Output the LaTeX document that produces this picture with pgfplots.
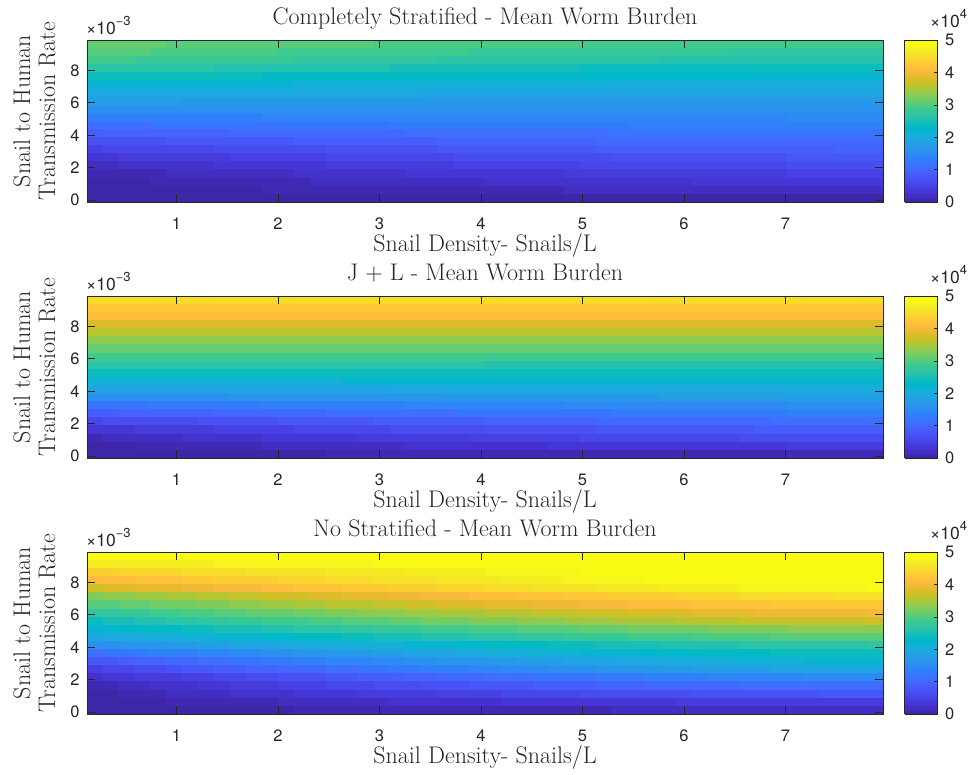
\documentclass[border=0pt]{standalone}
\usepackage{pgfplots}
\usepackage{pgfplotstable}
\pgfplotsset{compat=1.18}
\usepackage{fontspec}
\newfontfamily\hel{TeX Gyre Heros}
\definecolor{axgray}{rgb}{0.15,0.15,0.15}
\newcommand\tickfont{\hel\fontsize{16.5}{18}\selectfont}
\newcommand\expfont{\hel\fontsize{17.5}{19}\selectfont}
\newcommand\labfont{\fontsize{24}{27}\selectfont}
\newcommand\expo[1]{\raisebox{0.5em}{\fontsize{13}{13}\selectfont #1}}

% one grid cell of the heat map (cell size of the 50 x 20 grid)
\pgfdeclareplotmark{cell}{%
  \pgfpathrectangle{\pgfpoint{-8.15pt}{-4.25pt}}{\pgfpoint{16.3pt}{8.5pt}}%
  \pgfusepathqfill}

% parula, 64 levels (last entry repeated so that each level gets one bin)
\pgfplotsset{colormap={parula}{
rgb=(0.2422,0.1504,0.6603) rgb=(0.2504,0.1650,0.7076) rgb=(0.2578,0.1818,0.7511) rgb=(0.2647,0.1978,0.7952)
rgb=(0.2706,0.2147,0.8364) rgb=(0.2751,0.2342,0.8710) rgb=(0.2783,0.2559,0.8991) rgb=(0.2803,0.2782,0.9221)
rgb=(0.2813,0.3006,0.9414) rgb=(0.2810,0.3228,0.9579) rgb=(0.2795,0.3447,0.9717) rgb=(0.2760,0.3667,0.9829)
rgb=(0.2699,0.3892,0.9906) rgb=(0.2602,0.4123,0.9952) rgb=(0.2440,0.4358,0.9988) rgb=(0.2206,0.4603,0.9973)
rgb=(0.1963,0.4847,0.9892) rgb=(0.1834,0.5074,0.9798) rgb=(0.1786,0.5289,0.9682) rgb=(0.1764,0.5499,0.9520)
rgb=(0.1687,0.5703,0.9359) rgb=(0.1540,0.5902,0.9218) rgb=(0.1460,0.6091,0.9079) rgb=(0.1380,0.6276,0.8973)
rgb=(0.1248,0.6459,0.8883) rgb=(0.1113,0.6635,0.8763) rgb=(0.0952,0.6798,0.8598) rgb=(0.0689,0.6948,0.8394)
rgb=(0.0297,0.7082,0.8163) rgb=(0.0036,0.7203,0.7917) rgb=(0.0067,0.7312,0.7660) rgb=(0.0433,0.7411,0.7394)
rgb=(0.0964,0.7500,0.7120) rgb=(0.1408,0.7584,0.6842) rgb=(0.1717,0.7670,0.6554) rgb=(0.1938,0.7758,0.6251)
rgb=(0.2161,0.7843,0.5923) rgb=(0.2470,0.7918,0.5567) rgb=(0.2906,0.7973,0.5188) rgb=(0.3406,0.8008,0.4789)
rgb=(0.3909,0.8029,0.4354) rgb=(0.4456,0.8024,0.3909) rgb=(0.5044,0.7993,0.3480) rgb=(0.5616,0.7942,0.3045)
rgb=(0.6174,0.7876,0.2612) rgb=(0.6720,0.7793,0.2227) rgb=(0.7242,0.7698,0.1910) rgb=(0.7738,0.7598,0.1646)
rgb=(0.8203,0.7498,0.1535) rgb=(0.8634,0.7406,0.1596) rgb=(0.9035,0.7330,0.1774) rgb=(0.9393,0.7288,0.2100)
rgb=(0.9728,0.7298,0.2394) rgb=(0.9956,0.7434,0.2371) rgb=(0.9970,0.7659,0.2199) rgb=(0.9952,0.7893,0.2028)
rgb=(0.9892,0.8136,0.1885) rgb=(0.9786,0.8386,0.1766) rgb=(0.9676,0.8639,0.1643) rgb=(0.9610,0.8890,0.1537)
rgb=(0.9597,0.9135,0.1423) rgb=(0.9628,0.9373,0.1265) rgb=(0.9691,0.9606,0.1064) rgb=(0.9769,0.9839,0.0805)
rgb=(0.9769,0.9839,0.0805)}}

\pgfplotsset{
  cell plot/.style={scatter, only marks, mark=cell, point meta=explicit,
    scatter/use mapped color={fill=mapped color}},
  panel/.style={
    scale only axis, width=796pt, height=162pt, anchor=north west,
    xmin=0.12, xmax=7.96, ymin=-0.125, ymax=9.875,
    xtick={1,...,7}, ytick={0,2,4,6,8},
    tick align=inside, major tick length=8pt,
    axis on top, clip marker paths=true,
    colormap name=parula, colormap access=piecewise constant,
    point meta min=0, point meta max=500,
    axis line style={draw=axgray, line width=0.6pt},
    every tick/.style={draw=axgray, line width=0.6pt},
    tick label style={font=\tickfont, text=axgray},
    /pgf/number format/assume math mode=true,
    xticklabel style={yshift=-12.5pt},
    yticklabel style={xshift=-4pt},
    title style={at={(0.5,1)}, anchor=base, yshift=10pt, font=\labfont, text=axgray},
    xlabel={Snail Density- Snails/L},
    xlabel style={at={(0.5,0)}, anchor=base, yshift=-49pt, font=\labfont, text=axgray},
    colorbar,
    colorbar style={
      at={(parent axis.north east)}, anchor=north west, xshift=13pt,
      scale only axis, width=33pt, height=162pt,
      ytick={0,100,200,300,400,500}, yticklabels={0,1,2,3,4,5},
      ytick pos=right, yticklabel pos=right,
      major tick length=4pt, tick align=inside,
      yticklabel style={font=\tickfont, text=axgray, xshift=4pt},
      axis line style={draw=axgray, line width=0.6pt},
      every tick/.style={draw=axgray, line width=0.6pt},
    },
  },
}

% Mean worm burden in hundreds; one line per transmission-rate row (top row first),
% 50 snail-density columns from left to right.
\pgfplotstableread[header=false]{
311 310 310 309 308  307 307 306 305 305  304 303 303 302 302  301 300 300 299 299  298 297 297 296 296  295 295 294 294 293  293 292 292 292 291  291 290 290 290 289  289 289 288 288 288  288 287 287 287 287
302 301 300 300 299  298 297 296 295 295  294 293 292 292 291  290 290 289 288 287  287 286 285 285 284  284 283 282 282 281  281 280 280 279 279  278 278 277 277 277  276 276 276 275 275  275 274 274 274 274
287 286 285 284 283  282 282 281 280 279  278 278 277 276 275  274 274 273 272 271  271 270 269 269 268  267 267 266 265 265  264 264 263 263 262  262 261 261 260 260  259 259 259 258 258  258 257 257 257 257
268 267 266 266 265  264 263 262 261 261  260 259 258 258 257  256 256 255 254 253  253 252 251 251 250  250 249 248 248 247  247 246 246 245 245  244 244 243 243 243  242 242 242 241 241  241 240 240 240 240
246 245 245 244 243  242 242 241 240 240  239 238 238 237 237  236 235 235 234 234  233 232 232 231 231  230 230 229 229 228  228 227 227 227 226  226 225 225 225 224  224 224 223 223 223  223 222 222 222 222
222 221 221 220 220  219 219 218 218 217  217 216 216 215 215  214 214 214 213 213  212 212 211 211 211  210 210 209 209 209  208 208 208 207 207  207 206 206 206 206  205 205 205 205 205  204 204 204 204 204
198 198 197 197 197  197 196 196 196 195  195 195 195 194 194  194 194 193 193 193  193 192 192 192 192  191 191 191 191 191  190 190 190 190 190  190 189 189 189 189  189 189 189 188 188  188 188 188 188 188
177 177 177 177 177  177 176 176 176 176  176 176 176 176 176  176 176 175 175 175  175 175 175 175 175  175 175 175 175 175  175 175 175 174 174  174 174 174 174 174  174 174 174 174 174  174 174 174 174 174
156 156 156 156 156  157 157 157 157 157  157 157 157 157 158  158 158 158 158 158  158 158 158 158 158  159 159 159 159 159  159 159 159 159 159  159 159 160 160 160  160 160 160 160 160  160 160 160 160 160
135 135 136 136 136  137 137 137 138 138  138 139 139 139 140  140 140 141 141 141  141 142 142 142 143  143 143 143 144 144  144 144 145 145 145  145 145 146 146 146  146 146 146 146 147  147 147 147 147 147
113 114 114 115 116  116 117 117 118 118  119 120 120 121 121  122 122 123 123 124  124 125 125 126 126  127 127 128 128 129  129 129 130 130 131  131 131 131 132 132  132 133 133 133 133  134 134 134 134 134
92 93 94 95 95  96 97 98 99 100  100 101 102 103 103  104 105 106 106 107  108 108 109 110 110  111 112 112 113 113  114 115 115 116 116  117 117 118 118 118  119 119 119 120 120  120 121 121 121 121
72 73 74 75 76  77 78 79 80 81  82 83 84 85 86  87 88 88 89 90  91 92 93 93 94  95 96 96 97 98  99 99 100 100 101  102 102 103 103 104  104 105 105 105 106  106 106 107 107 107
53 54 55 57 58  59 60 61 62 63  65 66 67 68 69  70 71 72 73 74  75 76 77 78 78  79 80 81 82 83  83 84 85 86 86  87 88 88 89 89  90 90 91 91 92  92 92 93 93 93
36 37 39 40 41  42 43 45 46 47  48 49 50 51 53  54 55 56 57 58  59 60 61 62 63  64 65 65 66 67  68 69 69 70 71  72 72 73 73 74  75 75 76 76 77  77 77 78 78 78
21 22 24 25 26  27 28 30 31 32  33 34 35 36 38  39 40 41 42 43  44 45 46 47 48  49 50 50 51 52  53 54 54 55 56  57 57 58 58 59  60 60 61 61 62  62 62 63 63 63
10 11 12 13 15  16 17 18 19 20  21 22 23 24 25  26 27 28 29 30  31 32 32 33 34  35 36 37 37 38  39 40 40 41 42  42 43 43 44 44  45 45 46 46 47  47 47 48 48 48
4 5 6 7 8  8 9 10 11 12  13 13 14 15 16  17 17 18 19 20  20 21 22 22 23  24 24 25 26 26  27 27 28 28 29  30 30 30 31 31  32 32 32 33 33  33 34 34 34 34
2 3 3 4 4  5 5 6 6 7  7 8 8 9 9  10 10 10 11 11  12 12 13 13 13  14 14 15 15 15  16 16 16 17 17  17 18 18 18 18  19 19 19 19 19  20 20 20 20 20
1 1 1 1 2  2 2 2 2 2  2 3 3 3 3  3 3 3 4 4  4 4 4 4 4  4 4 4 5 5  5 5 5 5 5  5 5 5 6 6  6 6 6 6 6  6 6 6 6 6
}\tabStrat

\pgfplotstableread[header=false]{
452 452 452 452 452  452 452 452 452 452  451 451 451 451 451  451 451 451 451 451  451 451 451 451 451  450 450 450 450 450  450 450 450 450 450  450 450 450 450 450  449 449 449 449 449  449 449 449 449 449
428 428 428 428 428  428 428 428 428 428  428 428 428 428 428  428 428 428 428 428  428 428 428 428 428  427 427 427 427 427  427 427 427 427 427  427 427 427 427 427  427 427 427 427 427  427 427 427 427 427
410 410 410 410 410  410 410 410 409 409  409 409 409 409 409  409 409 409 409 409  409 409 409 409 409  409 409 409 409 409  408 408 408 408 408  408 408 408 408 408  408 408 408 408 408  408 408 408 408 408
381 381 381 381 381  381 381 381 381 381  381 381 381 381 381  381 381 381 381 381  380 380 380 380 380  380 380 380 380 380  380 380 380 380 380  380 380 380 380 380  380 380 380 380 380  380 380 380 380 380
357 357 357 357 357  357 357 357 357 357  357 357 357 357 357  356 356 356 356 356  356 356 356 356 356  356 356 356 356 356  356 356 356 356 356  355 355 355 355 355  355 355 355 355 355  355 355 355 355 355
332 332 332 332 332  332 332 332 332 332  333 333 333 333 333  333 333 333 333 333  333 333 333 333 333  334 334 334 334 334  334 334 334 334 334  334 334 334 334 334  335 335 335 335 335  335 335 335 335 335
310 310 310 310 310  310 310 310 310 310  310 310 310 310 310  309 309 309 309 309  309 309 309 309 309  309 309 309 309 309  309 309 309 309 309  308 308 308 308 308  308 308 308 308 308  308 308 308 308 308
288 288 288 288 288  288 288 288 288 288  287 287 287 287 287  287 287 287 287 287  286 286 286 286 286  286 286 286 286 286  286 286 286 286 286  285 285 285 285 285  285 285 285 285 285  285 285 285 285 285
268 268 267 267 267  267 266 266 266 265  265 265 265 264 264  264 264 263 263 263  263 262 262 262 262  261 261 261 261 261  260 260 260 260 260  260 259 259 259 259  259 259 259 258 258  258 258 258 258 258
245 245 245 244 244  244 244 244 244 244  244 243 243 243 243  243 243 243 243 242  242 242 242 242 242  242 242 241 241 241  241 241 241 241 241  241 241 241 240 240  240 240 240 240 240  240 240 240 240 240
212 212 212 213 213  213 213 214 214 214  214 215 215 215 215  215 216 216 216 216  216 217 217 217 217  217 217 218 218 218  218 218 218 219 219  219 219 219 219 219  219 220 220 220 220  220 220 220 220 220
185 185 186 186 187  187 188 188 189 189  189 190 190 191 191  191 192 192 192 193  193 194 194 194 195  195 195 196 196 196  196 197 197 197 197  198 198 198 198 199  199 199 199 199 200  200 200 200 200 200
155 156 157 157 158  159 159 160 161 162  162 163 164 164 165  166 166 167 167 168  169 169 170 170 171  172 172 173 173 174  174 174 175 175 176  176 177 177 177 178  178 178 179 179 179  180 180 180 180 180
120 121 122 123 124  125 126 127 128 129  130 131 132 133 134  135 136 136 137 138  139 140 141 141 142  143 144 144 145 146  147 147 148 148 149  150 150 151 151 152  152 153 153 153 154  154 154 155 155 155
90 91 93 94 95  96 97 99 100 101  102 103 104 105 107  108 109 110 111 112  113 114 115 116 117  118 119 119 120 121  122 123 123 124 125  126 126 127 127 128  129 129 130 130 131  131 131 132 132 132
60 62 63 65 66  68 69 70 72 73  75 76 77 78 80  81 82 84 85 86  87 88 90 91 92  93 94 95 96 97  98 99 100 101 102  103 103 104 105 105  106 107 107 108 108  109 109 110 110 110
35 37 38 40 41  43 44 46 47 49  50 52 53 55 56  57 59 60 61 63  64 65 66 68 69  70 71 72 73 74  75 76 77 78 79  80 81 82 82 83  84 84 85 86 86  87 87 87 88 88
15 17 18 20 21  23 24 25 27 28  30 31 32 33 35  36 37 39 40 41  42 43 45 46 47  48 49 50 51 52  53 54 55 56 57  58 58 59 60 60  61 62 62 63 63  64 64 65 65 65
5 6 7 8 9  10 11 12 13 14  15 16 17 18 19  20 21 21 22 23  24 25 26 26 27  28 29 29 30 31  32 32 33 33 34  35 35 36 36 37  37 38 38 38 39  39 39 40 40 40
2 2 3 3 4  4 4 5 5 5  6 6 6 7 7  8 8 8 8 9  9 9 10 10 10  11 11 11 11 12  12 12 12 13 13  13 13 13 14 14  14 14 14 14 15  15 15 15 15 15
}\tabJL

\pgfplotstableread[header=false]{
490 490 491 491 491  491 492 492 493 493  493 493 493 494 494  494 494 495 495 495  495 496 496 496 496  497 497 497 497 497  498 498 498 498 498  498 499 499 499 499  499 499 500 500 500  500 500 500 500 500
470 471 472 473 474  474 475 476 477 478  479 479 480 481 482  483 483 484 485 486  486 487 488 488 489  490 490 491 492 492  493 493 494 494 495  496 496 496 497 497  498 498 498 499 499  499 500 500 500 500
435 437 439 441 443  445 447 448 450 452  454 456 457 459 461  462 464 466 467 469  470 472 473 475 476  478 479 481 482 483  484 486 487 488 489  490 491 492 493 494  495 496 496 497 498  499 499 499 500 500
410 413 415 418 421  423 426 428 431 433  436 438 440 442 445  447 449 451 454 456  458 460 462 464 466  468 470 472 473 475  477 478 480 482 483  485 486 487 489 490  491 492 493 494 495  496 497 497 498 498
375 378 382 385 388  392 395 398 401 404  407 410 413 416 418  421 424 427 429 432  435 437 440 443 445  448 450 452 454 456  459 461 463 465 467  468 470 472 473 475  476 478 479 480 481  483 483 484 484 485
330 334 338 341 345  349 352 356 359 363  366 370 373 376 379  383 386 389 392 395  398 401 404 407 410  413 415 418 420 423  425 427 430 432 434  436 438 440 442 443  445 447 448 450 451  453 453 454 454 455
300 304 308 312 316  320 323 327 330 334  338 341 345 348 351  355 358 361 364 368  371 374 377 380 383  386 388 391 394 396  399 401 403 406 408  411 412 414 416 418  420 421 423 424 426  427 428 429 429 430
270 274 278 282 286  290 293 297 300 304  308 311 315 318 321  325 328 331 334 338  341 344 347 350 353  356 358 361 364 366  369 371 373 376 378  381 382 384 386 388  390 391 393 394 396  397 398 399 399 400
245 249 253 256 260  264 267 271 274 278  281 285 288 291 294  298 301 304 307 310  313 316 319 322 325  328 330 333 335 338  340 342 345 347 349  351 353 355 357 358  360 362 363 365 366  368 368 369 369 370
220 223 227 230 234  237 240 244 247 250  253 256 259 262 265  268 271 274 277 280  283 285 288 291 293  296 298 300 303 305  307 309 312 314 316  318 319 321 323 324  326 327 329 330 331  333 333 334 334 335
190 193 197 200 204  207 210 214 217 220  223 226 229 232 235  238 241 244 247 250  253 255 258 261 263  266 268 270 273 275  277 279 282 284 286  288 289 291 293 294  296 297 299 300 301  303 303 304 304 305
155 158 162 165 169  172 175 179 182 185  188 191 194 197 200  203 206 209 212 215  218 220 223 226 228  231 233 235 238 240  242 244 247 249 251  253 254 256 258 259  261 262 264 265 266  268 268 269 269 270
115 119 123 127 131  135 138 142 145 149  153 156 160 163 166  170 173 176 179 183  186 189 192 195 198  201 203 206 209 211  214 216 218 221 223  226 227 229 231 233  235 236 238 239 241  242 243 244 244 245
80 84 88 93 97  101 105 109 113 117  121 124 128 132 135  139 142 146 149 153  156 160 163 166 169  172 175 178 181 184  186 189 191 194 196  199 201 203 205 207  209 210 212 214 215  217 218 219 219 220
52 56 60 65 69  73 77 81 85 89  93 96 100 104 107  111 114 118 121 125  128 132 135 138 141  144 147 150 153 156  158 161 163 166 168  171 173 175 177 179  181 182 184 186 187  189 190 191 191 192
28 32 35 39 43  46 50 53 57 60  63 67 70 73 76  79 82 85 88 91  95 97 100 103 106  109 111 113 116 118  121 123 125 127 130  132 133 135 137 139  140 142 143 145 146  148 148 149 149 150
12 15 18 21 24  27 30 33 36 39  42 45 47 50 53  55 58 60 63 66  68 70 73 75 78  80 82 84 86 88  90 92 94 96 98  100 101 102 104 105  107 108 109 110 112  113 113 114 114 115
5 7 9 12 14  16 18 20 22 24  26 28 30 32 34  36 38 39 41 43  45 46 48 50 52  53 55 56 58 59  61 62 63 64 66  67 68 69 70 71  72 73 74 75 76  76 77 77 78 78
2 3 5 6 7  8 9 11 12 13  14 15 16 17 19  20 21 22 23 24  25 26 27 28 29  30 31 31 32 33  34 35 35 36 37  38 38 39 39 40  41 41 42 42 43  43 43 44 44 44
1 2 2 3 3  4 4 5 5 6  6 7 7 8 8  9 9 9 10 10  11 11 12 12 12  13 13 14 14 14  15 15 15 16 16  16 17 17 17 17  18 18 18 18 18  19 19 19 19 19
}\tabNone

\begin{document}
\begin{tikzpicture}
\path[use as bounding box] (0pt,0pt) rectangle (979pt,-774pt);

% Completely stratified
\begin{axis}[panel, at={(87pt,-40pt)}, title={Completely Stratified - Mean Worm Burden}]
\pgfplotsinvokeforeach{0,...,49}{
  \addplot[cell plot] table[x expr={0.1984+0.1568*#1}, y expr={9.625-0.5*\coordindex}, meta index=#1] {\tabStrat};
}
\end{axis}

% J + L
\begin{axis}[panel, at={(87pt,-296pt)}, title={J + L - Mean Worm Burden}]
\pgfplotsinvokeforeach{0,...,49}{
  \addplot[cell plot] table[x expr={0.1984+0.1568*#1}, y expr={9.625-0.5*\coordindex}, meta index=#1] {\tabJL};
}
\end{axis}

% not stratified
\begin{axis}[panel, at={(87pt,-552pt)}, title={No Stratified - Mean Worm Burden}]
\pgfplotsinvokeforeach{0,...,49}{
  \addplot[cell plot] table[x expr={0.1984+0.1568*#1}, y expr={9.625-0.5*\coordindex}, meta index=#1] {\tabNone};
}
\end{axis}

% two-line y labels
\foreach \yc in {111,367,623}{
  \node[rotate=90, anchor=base, font=\labfont, text=axgray, inner sep=0pt] at (30pt,-\yc pt) {Snail to Human};
  \node[rotate=90, anchor=base, font=\labfont, text=axgray, inner sep=0pt] at (55pt,-\yc pt) {Transmission Rate};
}
% exponent labels of the y axes and of the colour bars
\foreach \yb in {0,256,512}{
  \node[anchor=base west, font=\expfont, text=axgray, inner sep=0pt] at (86pt,-34pt-\yb pt) {×10\expo{−3}};
  \node[anchor=base west, font=\expfont, text=axgray, inner sep=0pt] at (930pt,-27pt-\yb pt) {×10\expo{4}};
}
\end{tikzpicture}
\end{document}
